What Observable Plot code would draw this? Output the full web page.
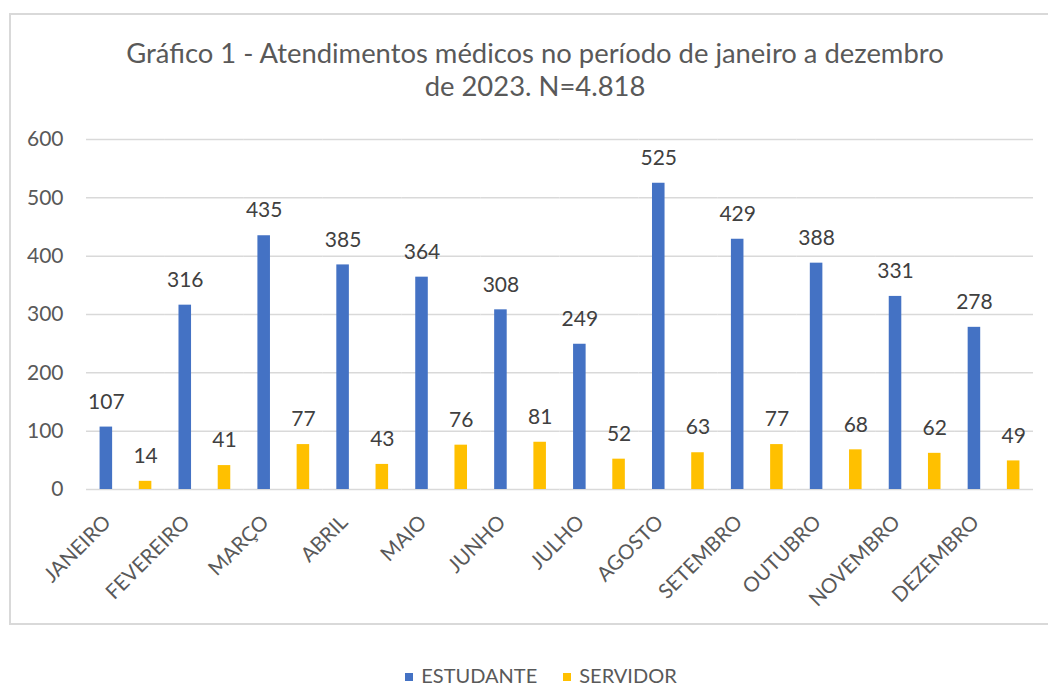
<!DOCTYPE html>
<html>
<head>
<meta charset="utf-8">
<script src="https://cdn.jsdelivr.net/npm/d3@7"></script>
<script src="https://cdn.jsdelivr.net/npm/@observablehq/plot@0.6"></script>
<style>
  html, body { margin: 0; padding: 0; background: #fff; }
  body { width: 1048px; height: 686px; overflow: hidden; font-family: Lato, "Open Sans", sans-serif; }
  #wrap { position: relative; width: 1048px; height: 686px; }
  #frame { position: absolute; left: 9px; top: 13px; width: 1100px; height: 612px; border: 2px solid #d9d9d9; box-sizing: border-box; }
  #title { position: absolute; left: 0; top: 0; width: 1070px; height: 125px; text-align: center; color: #595959; font-size: 27.4px; line-height: 33px; padding-top: 36px; box-sizing: border-box; }
  #chart { position: absolute; left: 0; top: 125px; }
  #legend { position: absolute; left: 0; top: 663px; width: 1082px; text-align: center; font-size: 20px; color: #595959; }
  .sw { display: inline-block; width: 8px; height: 8px; margin-right: 8px; vertical-align: 2px; }
  .item { margin: 0 13px; }
</style>
</head>
<body>
<div id="wrap">
  <div id="frame"></div>
  <div id="title">Gráfico 1 - Atendimentos médicos no período de janeiro a dezembro<br>de 2023. N=4.818</div>
  <div id="chart"></div>
  <div id="legend"></div>
</div>
<script>
const months = ["JANEIRO","FEVEREIRO","MARÇO","ABRIL","MAIO","JUNHO","JULHO","AGOSTO","SETEMBRO","OUTUBRO","NOVEMBRO","DEZEMBRO"];
const estudante = [107,316,435,385,364,308,249,525,429,388,331,278];
const servidor = [14,41,77,43,76,81,52,63,77,68,62,49];
const seriesNames = ["ESTUDANTE","SERVIDOR"];
const seriesColors = ["#4472C4","#FFC000"];
const yTicks = [0,100,200,300,400,500,600];

const data = [];
months.forEach((m, i) => {
  data.push({month: m, series: seriesNames[0], value: estudante[i]});
  data.push({month: m, series: seriesNames[1], value: servidor[i]});
});

const chart = Plot.plot({
  width: 1048,
  height: 502,
  marginLeft: 86,
  marginRight: 15,
  marginTop: 14,
  marginBottom: 138,
  style: {fontFamily: "Lato, 'Open Sans', sans-serif", fontSize: "21px", background: "transparent", overflow: "visible"},
  fx: {domain: months, padding: 0, round: false, axis: "bottom", tickRotate: -45, tickSize: 0, tickPadding: 11, label: null},
  x: {domain: seriesNames, paddingInner: 0.68, paddingOuter: 0.346, round: false, axis: null},
  y: {domain: [0, 600], ticks: yTicks, tickSize: 0, tickPadding: 23, label: null},
  color: {domain: seriesNames, range: seriesColors},
  marks: [
    Plot.gridY(yTicks, {stroke: "#d9d9d9", strokeOpacity: 1, strokeWidth: 1.5}),
    Plot.barY(data, {fx: "month", x: "series", y: "value", fill: "series"}),
    Plot.text(data, {fx: "month", x: "series", y: "value", text: d => String(d.value), dy: -25, fill: "#404040", fontSize: 21, lineAnchor: "middle"})
  ]
});
chart.querySelectorAll("[aria-label='fx-axis tick label']").forEach(g => { g.setAttribute("fill", "#595959"); g.setAttribute("font-size", "20.5"); });
chart.querySelectorAll("[aria-label='y-axis tick label']").forEach(g => g.setAttribute("fill", "#595959"));
chart.querySelectorAll("[aria-label='fx-axis tick label'] text").forEach(t => { t.setAttribute("fill", "#595959"); t.setAttribute("dx", "-26"); });
chart.querySelectorAll("[aria-label='y-axis tick label'] text").forEach(t => t.setAttribute("fill", "#595959"));
document.getElementById("chart").appendChild(chart);

const legend = document.getElementById("legend");
seriesNames.forEach((s, i) => {
  const span = document.createElement("span");
  span.className = "item";
  span.innerHTML = `<span class="sw" style="background:${seriesColors[i]}"></span>${s}`;
  legend.appendChild(span);
});
</script>
</body>
</html>
